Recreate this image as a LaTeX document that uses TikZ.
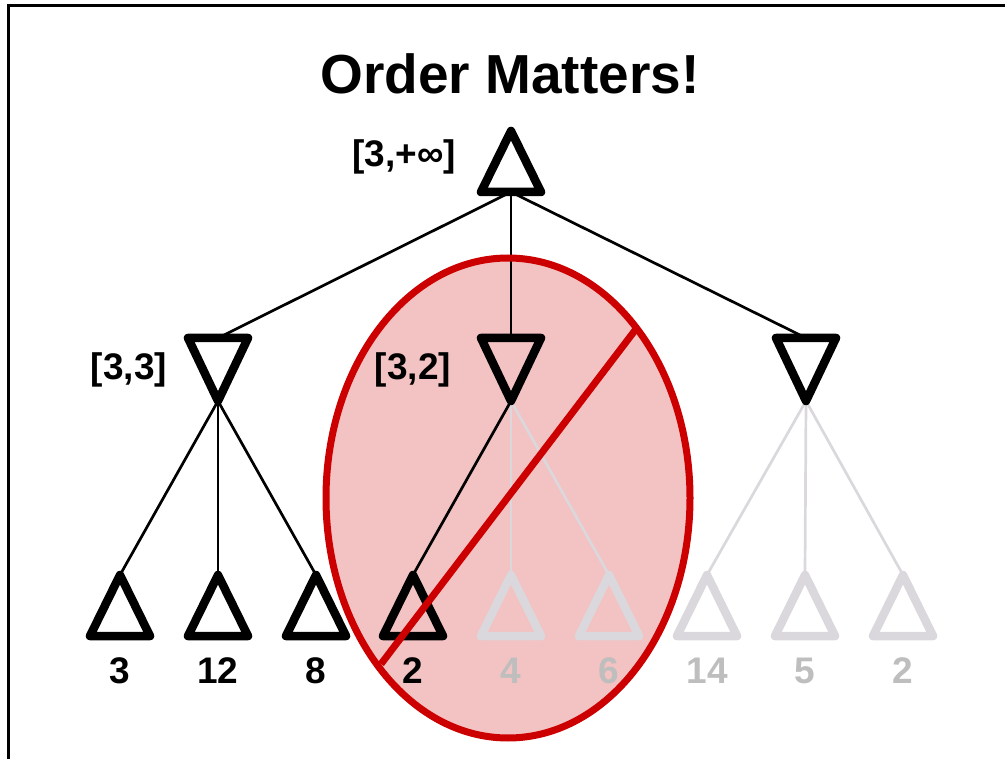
\documentclass[tikz,border=0pt]{standalone}
\usepackage{fontspec}
\setmainfont{Liberation Sans}
\definecolor{lgray}{RGB}{218,216,220}
\definecolor{tgray}{RGB}{190,190,190}
\definecolor{ered}{RGB}{204,0,0}
\definecolor{epink}{RGB}{243,194,194}
\tikzset{
  tri/.style={line width=8.5pt, line join=round, line cap=round},
  edge/.style={line width=2.7pt},
  lbl/.style={font=\fontsize{37}{42}\selectfont\bfseries, inner sep=0pt},
}
% up-pointing triangle: name, x, apex y, colour
\newcommand\uptri[4]{%
  \coordinate (#1-t) at (#2,#3);
  \coordinate (#1-b) at (#2,#3+61);
  \draw[tri,#4] (#2,#3) -- (#2+30,#3+61) -- (#2-30,#3+61) -- cycle;}
% down-pointing triangle: name, x, top y, colour
\newcommand\dntri[4]{%
  \coordinate (#1-t) at (#2,#3);
  \coordinate (#1-b) at (#2,#3+63);
  \draw[tri,#4] (#2-30,#3) -- (#2+30,#3) -- (#2,#3+63) -- cycle;}
\begin{document}
\begin{tikzpicture}[x=1pt,y=-1pt]
\useasboundingbox (0,0) rectangle (1005,759);
% frame (top and left edges)
\draw[line width=3.5pt] (8.5,759) -- (8.5,5.5) -- (1005,5.5);
% title
\node[font=\fontsize{55}{62}\selectfont\bfseries, inner sep=0pt] (title) at (510,74) {Order Matters!};
% ellipse fill
\fill[epink] (508,498) ellipse [x radius=182, y radius=240];
% coordinates of nodes
\coordinate (r-t) at (511,131);
\coordinate (r-b) at (511,192);
\coordinate (a-t) at (218,338); \coordinate (a-b) at (218,401);
\coordinate (b-t) at (511,338); \coordinate (b-b) at (511,401);
\coordinate (c-t) at (806,338); \coordinate (c-b) at (806,401);
\foreach \n/\x in {1/120,2/218,3/316,4/413,5/511,6/609,7/707,8/805,9/903}{
  \coordinate (l\n-t) at (\x,575);
}
% edges
\draw[edge] (r-b) -- (a-t);
\draw[edge] (r-b) -- (b-t);
\draw[edge] (r-b) -- (c-t);
\draw[edge] (a-b) -- (l1-t);
\draw[edge] (a-b) -- (l2-t);
\draw[edge] (a-b) -- (l3-t);
\draw[edge] (b-b) -- (l4-t);
\draw[edge,lgray] (b-b) -- (l5-t);
\draw[edge,lgray] (b-b) -- (l6-t);
\draw[edge,lgray] (c-b) -- (l7-t);
\draw[edge,lgray] (c-b) -- (l8-t);
\draw[edge,lgray] (c-b) -- (l9-t);
% triangles
\uptri{r}{511}{131}{black}
\dntri{a}{218}{338}{black}
\dntri{b}{511}{338}{black}
\dntri{c}{806}{338}{black}
\uptri{l1}{120}{575}{black}
\uptri{l2}{218}{575}{black}
\uptri{l3}{316}{575}{black}
\uptri{l4}{413}{575}{black}
\uptri{l5}{511}{575}{lgray}
\uptri{l6}{609}{575}{lgray}
\uptri{l7}{707}{575}{lgray}
\uptri{l8}{805}{575}{lgray}
\uptri{l9}{903}{575}{lgray}
% labels
\node[lbl] (rl) at (404,157) {[3,+∞]};
\node[lbl] (al) at (129,370) {[3,3]};
\node[lbl] (bl) at (413,370) {[3,2]};
\node[lbl] (v1) at (120,671) {3};
\node[lbl] (v2) at (218,671) {12};
\node[lbl] (v3) at (316,671) {8};
\node[lbl] (v4) at (413,671) {2};
\node[lbl,tgray] (v5) at (511,671) {4};
\node[lbl,tgray] (v6) at (609,671) {6};
\node[lbl,tgray] (v7) at (707,671) {14};
\node[lbl,tgray] (v8) at (805,671) {5};
\node[lbl,tgray] (v9) at (903,671) {2};
% ellipse border and slash
\draw[ered, line width=7pt] (508,498) ellipse [x radius=182, y radius=240];
\coordinate (s1) at (381,664);
\coordinate (s2) at (636,329);
\draw[ered, line width=7pt] (s1) -- (s2);
\end{tikzpicture}
\end{document}
